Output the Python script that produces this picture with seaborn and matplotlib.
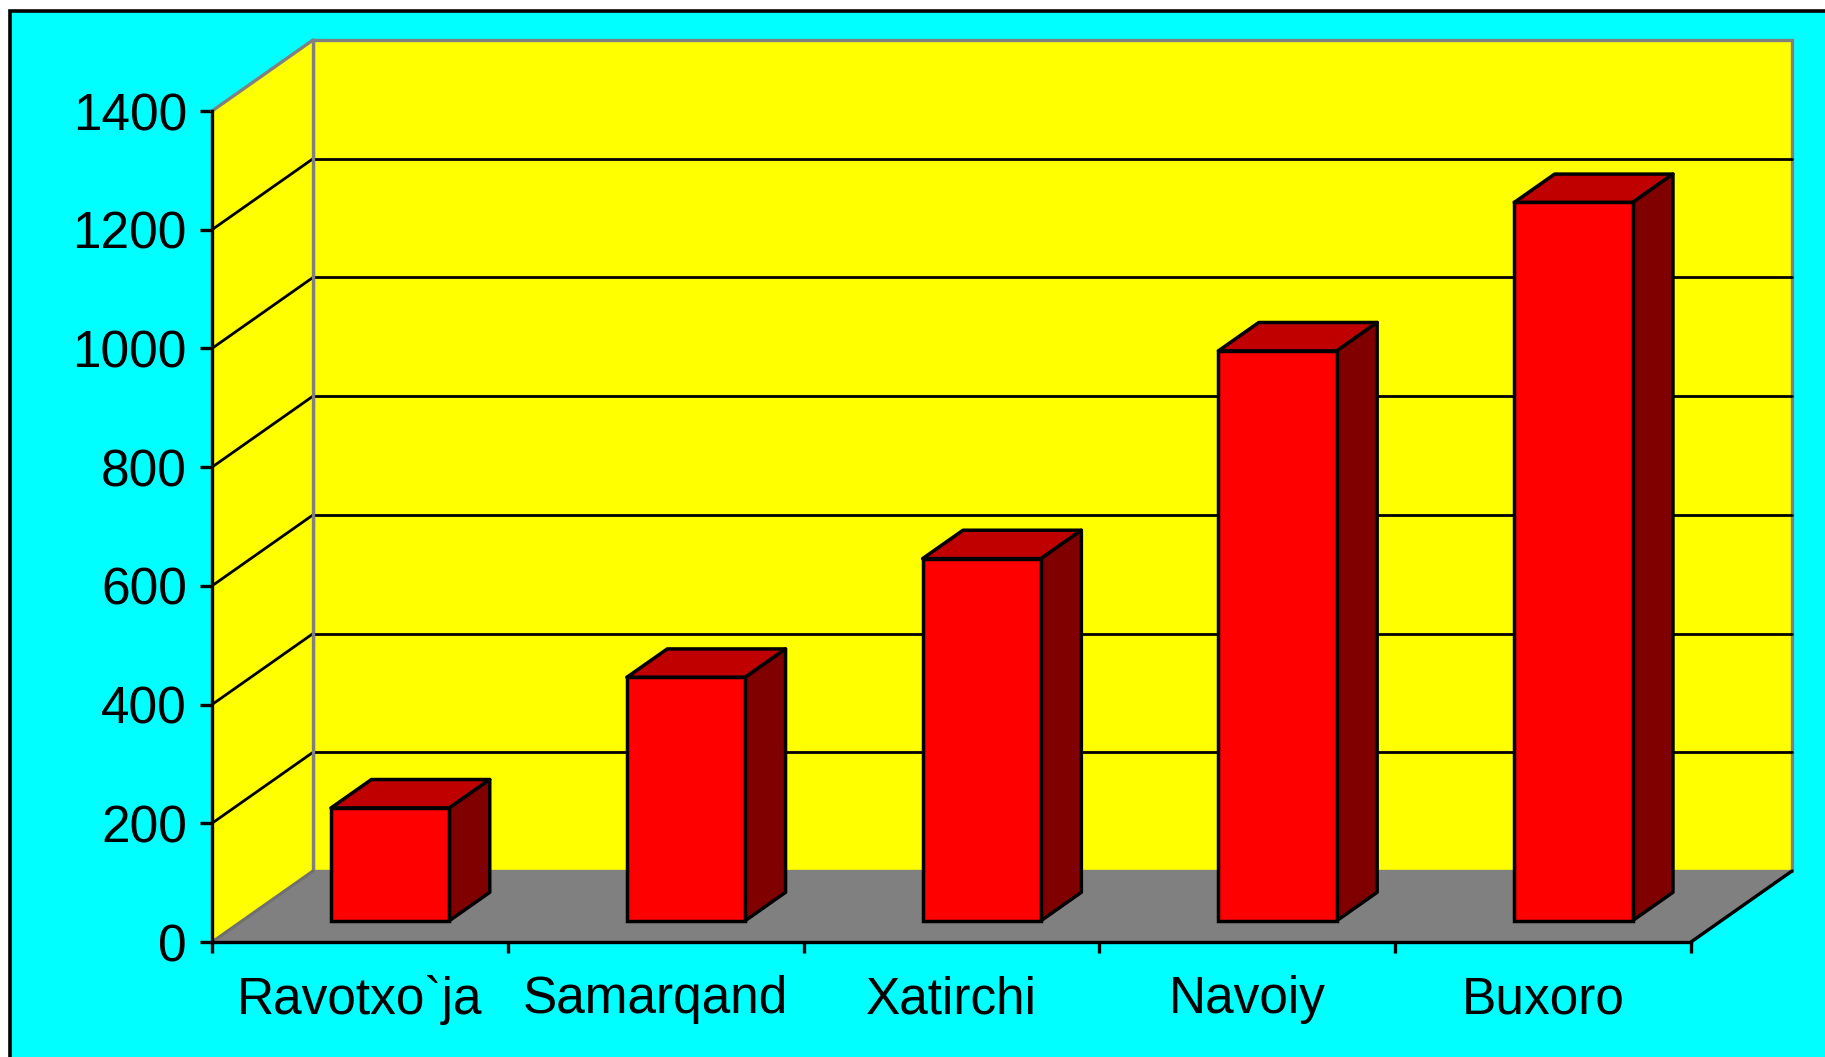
import numpy as np
import pandas as pd
import matplotlib
matplotlib.use("Agg")
import matplotlib.pyplot as plt
import matplotlib.transforms as mtransforms
from matplotlib.patches import Polygon, Rectangle
from matplotlib.lines import Line2D
import seaborn as sns

# ---- data ----
categories = ["Ravotxo`ja", "Samarqand", "Xatirchi", "Navoiy", "Buxoro"]
values = [190, 410, 610, 960, 1210]
y_ticks = [0, 200, 400, 600, 800, 1000, 1200, 1400]

# ---- style ----
sns.set_theme(style="white")
plt.rcParams["font.family"] = ["Liberation Sans", "DejaVu Sans"]

W, H, DPI = 1825, 1057, 100
fig = plt.figure(figsize=(W / DPI, H / DPI), dpi=DPI, facecolor="white")

# cyan panel with black border (top/left visible)
fig.add_artist(Rectangle((9.5 / W, -0.05), 1.1, 1 - 10.5 / H + 0.05,
                         transform=fig.transFigure, facecolor="#00FFFF",
                         edgecolor="black", linewidth=2.6, zorder=0))

# front plane of the 3D box
x0_px, x1_px, y0_px, y1_px = 212, 1691, 942, 111
ax = fig.add_axes([x0_px / W, 1 - y0_px / H, (x1_px - x0_px) / W, (y0_px - y1_px) / H])
ax.set_facecolor("none")

n = len(categories)
ymax = y_ticks[-1]
px_per_x = (x1_px - x0_px) / n
px_per_y = (y0_px - y1_px) / ymax
DX = 101 / px_per_x      # depth offset in data x units
DY = 71 / px_per_y       # depth offset in data y units
f0, f1 = 0.3, 0.7        # bar depth range
EDGE = 2.5

df = pd.DataFrame({"region": categories, "value": values})
sns.barplot(data=df, x="region", y="value", color="#FF0000", saturation=1,
            edgecolor="black", linewidth=EDGE, width=0.4, ax=ax, zorder=6)

ax.set_xlim(-0.5, n - 0.5)
ax.set_ylim(0, ymax)

xl, xr = -0.5, n - 0.5
WALL_Z = 1
# back wall
ax.add_patch(Polygon([(xl + DX, DY), (xr + DX, DY), (xr + DX, ymax + DY), (xl + DX, ymax + DY)],
                     closed=True, facecolor="#FFFF00", edgecolor="#808080", linewidth=2.4,
                     clip_on=False, zorder=WALL_Z))
# side wall
ax.add_patch(Polygon([(xl, 0), (xl + DX, DY), (xl + DX, ymax + DY), (xl, ymax)],
                     closed=True, facecolor="#FFFF00", edgecolor="none",
                     clip_on=False, zorder=WALL_Z))
# floor
ax.add_patch(Polygon([(xl, 0), (xr, 0), (xr + DX, DY), (xl + DX, DY)],
                     closed=True, facecolor="#808080", edgecolor="none",
                     clip_on=False, zorder=WALL_Z))
# gridlines on back wall and side wall
for v in y_ticks[1:-1]:
    ax.add_line(Line2D([xl + DX, xr + DX], [v + DY, v + DY], color="black", lw=2.0,
                       clip_on=False, zorder=WALL_Z + 0.2))
    ax.add_line(Line2D([xl, xl + DX], [v, v + DY], color="black", lw=2.0,
                       clip_on=False, zorder=WALL_Z + 0.2))
# wall edges
ax.add_line(Line2D([xl, xl + DX], [ymax, ymax + DY], color="#808080", lw=2.4,
                   clip_on=False, zorder=WALL_Z + 0.3))
ax.add_line(Line2D([xl + DX, xl + DX], [DY, ymax + DY], color="#808080", lw=2.4,
                   clip_on=False, zorder=WALL_Z + 0.3))
ax.add_line(Line2D([xl, xl + DX], [0, DY], color="#707070", lw=2.2,
                   clip_on=False, zorder=WALL_Z + 0.3))
ax.add_line(Line2D([xr, xr + DX], [0, DY], color="black", lw=2.4,
                   clip_on=False, zorder=WALL_Z + 0.3))

# 3D bars: shift front faces into depth, add top and side faces
shift = mtransforms.Affine2D().translate(f0 * DX, f0 * DY) + ax.transData
depth = f1 - f0
for p in list(ax.patches):
    if not isinstance(p, Rectangle):
        continue
    if p.get_zorder() != 6:
        continue
    p.set_transform(shift)
    bx0 = p.get_x() + f0 * DX
    bx1 = bx0 + p.get_width()
    by0 = p.get_y() + f0 * DY
    by1 = by0 + p.get_height()
    ddx, ddy = depth * DX, depth * DY
    ax.add_patch(Polygon([(bx0, by1), (bx1, by1), (bx1 + ddx, by1 + ddy), (bx0 + ddx, by1 + ddy)],
                         closed=True, facecolor="#C00000", edgecolor="black", linewidth=EDGE,
                         joinstyle="round", clip_on=False, zorder=5))
    ax.add_patch(Polygon([(bx1, by0), (bx1 + ddx, by0 + ddy), (bx1 + ddx, by1 + ddy), (bx1, by1)],
                         closed=True, facecolor="#800000", edgecolor="black", linewidth=EDGE,
                         joinstyle="round", clip_on=False, zorder=5))

# axes styling
for s in ["top", "right"]:
    ax.spines[s].set_visible(False)
for s in ["left", "bottom"]:
    ax.spines[s].set_visible(True)
    ax.spines[s].set_color("black")
    ax.spines[s].set_linewidth(2.4)
    ax.spines[s].set_zorder(4)

FS = 37
ax.set_yticks(y_ticks)
ax.set_yticklabels([str(t) for t in y_ticks])
ax.tick_params(axis="y", which="major", left=True, direction="out", length=8.6, width=2.4,
               color="black", pad=9.4, labelsize=FS, labelcolor="black")
ax.set_xticks(range(n))
ax.set_xticklabels(categories)
ax.set_xticks(np.arange(-0.5, n, 1.0), minor=True)
ax.tick_params(axis="x", which="major", bottom=False, length=0, pad=24, labelsize=FS,
               labelcolor="black")
ax.tick_params(axis="x", which="minor", bottom=True, direction="out", length=8, width=2.4,
               color="black")
ax.set_xlabel("")
ax.set_ylabel("")
ax.grid(False)

fig.savefig("out.png", dpi=DPI, facecolor="white")
